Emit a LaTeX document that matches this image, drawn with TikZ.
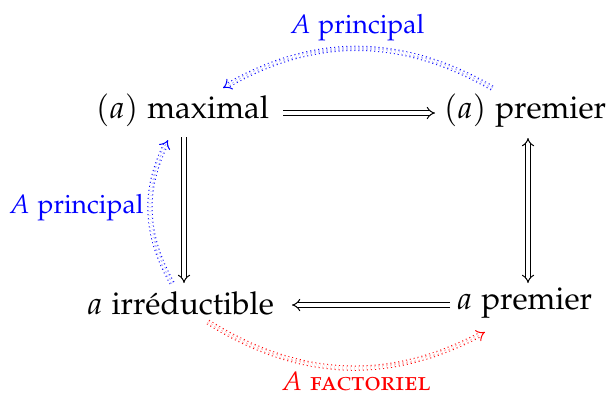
\documentclass[tikz,border=0pt]{standalone}
\usepackage[T1]{fontenc}
\usepackage[sc]{mathpazo}
\usetikzlibrary{arrows.meta,calc}
\begin{document}
\begin{tikzpicture}[x=0.4pt,y=0.4pt,
  lbl/.style={inner sep=0pt, font=\fontsize{12.6}{15}\selectfont},
  sm/.style={inner sep=0pt, font=\fontsize{10.6}{13}\selectfont},
  dbl/.style={double, double distance=1.3pt, line width=0.4pt, -{Implies}},
  dotarrow/.style={double, double distance=1.3pt, line width=0.4pt, dash pattern=on 0.4pt off 1.2pt, -{Implies}},
]
\useasboundingbox (0,0) rectangle (606,-396);
\node[lbl] (maxi) at (182.5,-110.5) {$(a)$ maximal};
\node[lbl] (prem) at (525,-110.5) {$(a)$ premier};
\node[lbl] (irr) at (180.5,-303) {$a$ irréductible};
\node[lbl] (prem2) at (524.5,-303) {$a$ premier};

\draw[dbl] ($(maxi)+(100.5,-2.5)$) -- ($(prem)+(-90,-2.5)$);
\draw[dbl] ($(maxi)+(1.5,-26.5)$) -- ($(irr)+(3.5,20)$);
\draw[dbl,{Implies}-{Implies}] ($(prem)+(3,-27.5)$) -- ($(prem2)+(3.5,20)$);
\draw[dbl] ($(prem2)+(-74.5,-2)$) -- ($(irr)+(111.5,-2)$);

\draw[dotarrow, blue] ($(prem)+(-33,22.5)$) to[bend right=30] ($(maxi)+(40.5,22.5)$);
\node[sm, blue, anchor=base] (ltop) at (357,-33) {$A$ principal};
\draw[dotarrow, blue] ($(irr)+(-8.5,20)$) to[bend left=28] ($(maxi)+(-14.5,-29.5)$);
\node[sm, blue, anchor=base east] (lleft) at (144,-213) {$A$ principal};
\draw[dotarrow, red] ($(irr)+(27.5,-19)$) to[bend right=30] ($(prem2)+(-39.5,-29)$);
\node[sm, red, anchor=base] (lbot) at (356,-390) {$A$ \textsc{factoriel}};
\end{tikzpicture}
\end{document}
